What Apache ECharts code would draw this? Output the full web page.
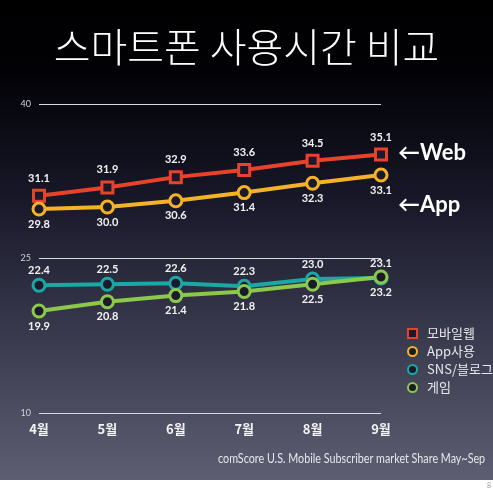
<!DOCTYPE html>
<html><head><meta charset="utf-8">
<script src="https://cdn.jsdelivr.net/npm/echarts@6/dist/echarts.min.js"></script>
<style>html,body{margin:0;padding:0;background:#fff;}#c{width:493px;height:493px;}</style>
</head><body><div id="c"></div>
<script>
const categories = ['4월','5월','6월','7월','8월','9월'];
const webValues = [31.1, 31.9, 32.9, 33.6, 34.5, 35.1];
const appValues = [29.8, 30.0, 30.6, 31.4, 32.3, 33.1];
const snsValues = [22.4, 22.5, 22.6, 22.3, 23.0, 23.1];
const gameValues = [19.9, 20.8, 21.4, 21.8, 22.5, 23.2];
const seriesNames = ['모바일웹','App사용','SNS/블로그','게임'];
const yTicks = [10, 25, 40];

const chart = echarts.init(document.getElementById('c'));
const labelFont = {color:'#f2f2f2', fontFamily:'Lato', fontWeight:'bold', fontSize:11};
function mk(name, data, color, symbol, pos){
  return {
    name, type:'line', data, symbol, symbolSize: symbol==='rect'?11:12,
    lineStyle:{color, width:4}, itemStyle:{color:'#1a1a2a', borderColor:color, borderWidth:3},
    label:Object.assign({show:true, position:pos, distance:symbol==='rect'?5:2, formatter:p=>p.value.toFixed(1)}, labelFont),
    z: 5
  };
}
chart.setOption({
  backgroundColor:'#ffffff',
  animation:false,
  graphic:[
    {type:'rect', z:-10, silent:true, shape:{x:0,y:0,width:493,height:480},
     style:{fill:new echarts.graphic.LinearGradient(0,0,0,1,[
       {offset:0,color:'#000000'},{offset:0.15,color:'#020206'},{offset:0.42,color:'#181829'},
       {offset:0.7,color:'#3a3a4f'},{offset:1,color:'#5e5e72'}])}},
    {type:'text', left:'center', top:27, style:{text:'스마트폰 사용시간 비교', fill:'#ffffff', font:'300 40px "Noto Sans CJK KR"'}},
    {type:'text', left:398, top:142, style:{text:'←Web', fill:'#ffffff', font:'bold 22px Lato'}},
    {type:'text', left:398, top:194, style:{text:'←App', fill:'#ffffff', font:'bold 22px Lato'}},
    {type:'text', x:218, y:452, scaleX:0.86, style:{text:'comScore U.S. Mobile Subscriber market Share May~Sep', fill:'#e6e6ec', font:'12.5px Lato'}},
    {type:'text', right:2, top:482, style:{text:'8', fill:'#999', font:'7px Lato'}}
  ],
  grid:{left:39, right:112, top:104, bottom:80},
  legend:{
    orient:'vertical', left:402, top:322, itemGap:5, itemWidth:9, itemHeight:9,
    data:[{name:seriesNames[0], icon:'rect'},{name:seriesNames[1], icon:'circle'},{name:seriesNames[2], icon:'circle'},{name:seriesNames[3], icon:'circle'}],
    textStyle:{color:'#e8e8ee', fontSize:13, fontFamily:'"Noto Sans CJK KR"', padding:[0,0,0,5]}
  },
  xAxis:{
    type:'category', data:categories, boundaryGap:false,
    axisLine:{show:false}, axisTick:{show:false},
    axisLabel:{color:'#f4f4f4', fontFamily:'"Noto Sans CJK KR"', fontWeight:'bold', fontSize:13, margin:10}
  },
  yAxis:{
    type:'value', min:10, max:40, interval:15,
    axisLine:{show:false}, axisTick:{show:false},
    axisLabel:{color:'#cfcfd6', fontSize:9, fontFamily:'Lato', margin:8, verticalAlign:'middle',
      formatter:v=>yTicks.includes(v)?String(v):''},
    splitLine:{lineStyle:{color:'#d8d8de', width:1}}
  },
  series:[
    mk(seriesNames[0], webValues, '#e8432a', 'rect', 'top'),
    mk(seriesNames[1], appValues, '#f4b324', 'circle', 'bottom'),
    mk(seriesNames[2], snsValues, '#19a8a6', 'circle', 'top'),
    mk(seriesNames[3], gameValues, '#8cc84b', 'circle', 'bottom')
  ]
});
</script></body></html>
